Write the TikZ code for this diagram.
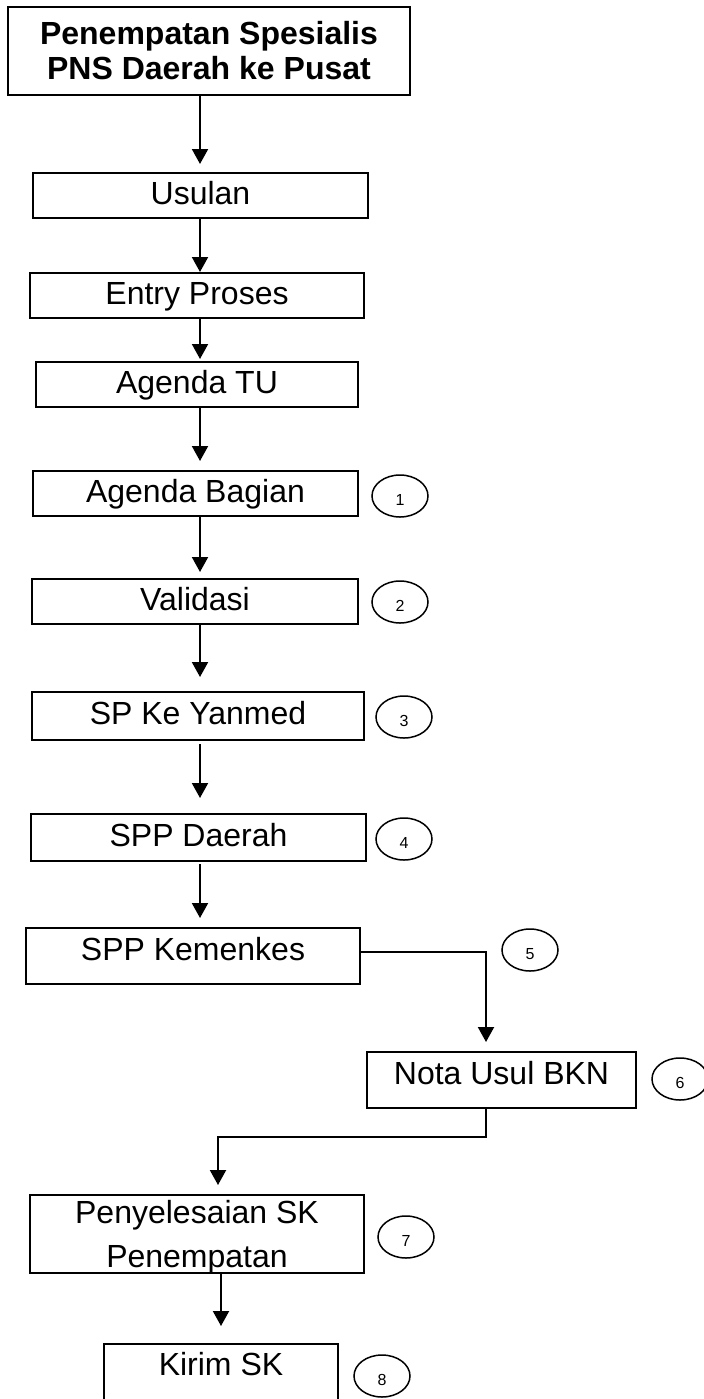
\documentclass[tikz,border=0pt]{standalone}
\usepackage{fontspec}
\setmainfont{Liberation Sans}
\usetikzlibrary{arrows.meta,shapes.geometric}
\tikzset{
  kotak/.style={draw,line width=1pt,inner sep=0pt,align=center,font=\fontsize{16}{22}\selectfont},
  satu/.style={text height=11.5pt,text depth=3pt},
  nomor/.style={draw,ellipse,line width=.75pt,inner sep=0pt,minimum width=28pt,minimum height=21pt,text height=9.5pt,text depth=0pt,font=\fontsize{8}{9}\selectfont},
  panah/.style={line width=1pt,-{Triangle[length=7.5pt,width=8pt]}}
}
\begin{document}
\begin{tikzpicture}[x=.5pt,y=-.5pt]
\useasboundingbox(0,0)rectangle(704,1399);
\clip(0,0)rectangle(704,1399);
%kotak
\node[kotak,font=\bfseries\fontsize{16}{17.5}\selectfont,minimum width=201pt,minimum height=44pt](judul)at(209,51){Penempatan Spesialis\\PNS Daerah ke Pusat};
\node[kotak,satu,minimum width=167.5pt,minimum height=22.5pt](usulan)at(200.5,195.5){Usulan};
\node[kotak,satu,minimum width=167pt,minimum height=22.5pt](entry)at(197,295.5){Entry Proses};
\node[kotak,satu,minimum width=161pt,minimum height=22.5pt](agendatu)at(197,384.5){Agenda TU};
\node[kotak,satu,minimum width=162.5pt,minimum height=22.5pt](agendabag)at(195.5,493.5){Agenda Bagian};
\node[kotak,satu,minimum width=163pt,minimum height=22.5pt](validasi)at(195,601.5){Validasi};
\node[kotak,satu,minimum width=166pt,minimum height=24pt](spyanmed)at(198,716){SP Ke Yanmed};
\node[kotak,satu,minimum width=167.5pt,minimum height=23.5pt](sppdaerah)at(198.5,837.5){SPP Daerah};
\node[kotak,satu,text depth=7.5pt,minimum width=167pt,minimum height=28pt](kemenkes)at(193,956){SPP Kemenkes};
\node[kotak,satu,text depth=7pt,minimum width=134.5pt,minimum height=28pt](nota)at(501.5,1080){Nota Usul BKN};
\node[kotak,minimum width=167pt,minimum height=39pt](penyelesaian)at(197,1234){Penyelesaian SK\\\smash{Penempatan}};
\node[kotak,satu,text depth=19pt,minimum width=117pt,minimum height=39pt](kirim)at(221,1383){Kirim SK};
%nomor
\node[nomor](n1)at(400,496){1};
\node[nomor](n2)at(400,602){2};
\node[nomor](n3)at(404,717){3};
\node[nomor](n4)at(404,839){4};
\node[nomor](n5)at(530,950){5};
\node[nomor](n6)at(680,1079){6};
\node[nomor](n7)at(406,1237){7};
\node[nomor](n8)at(382,1376){8};
%panah
\coordinate(poros)at(200,0);
\coordinate(turun)at(486,0);
\coordinate(belok)at(218,1137);
\draw[panah,shorten >=4pt](judul.south -| poros)--(usulan.north -| poros);
\draw[panah](usulan.south -| poros)--(entry.north -| poros);
\draw[panah,shorten >=1pt](entry.south -| poros)--(agendatu.north -| poros);
\draw[panah,shorten >=4.5pt](agendatu.south -| poros)--(agendabag.north -| poros);
\draw[panah,shorten >=3pt](agendabag.south -| poros)--(validasi.north -| poros);
\draw[panah,shorten >=7pt](validasi.south -| poros)--(spyanmed.north -| poros);
\draw[panah,shorten <=1.5pt,shorten >=7.5pt](spyanmed.south -| poros)--(sppdaerah.north -| poros);
\draw[panah,shorten <=1pt,shorten >=4.5pt](sppdaerah.south -| poros)--(kemenkes.north -| poros);
\draw[panah,shorten >=4.5pt]([yshift=2pt]kemenkes.east)-|(nota.north -| turun);
\draw[panah,shorten >=4.5pt](nota.south -| turun)|-(belok)--(belok |- penyelesaian.north);
\draw[panah,shorten >=8.5pt](penyelesaian.south -| kirim)--(kirim.north);
\end{tikzpicture}
\end{document}
